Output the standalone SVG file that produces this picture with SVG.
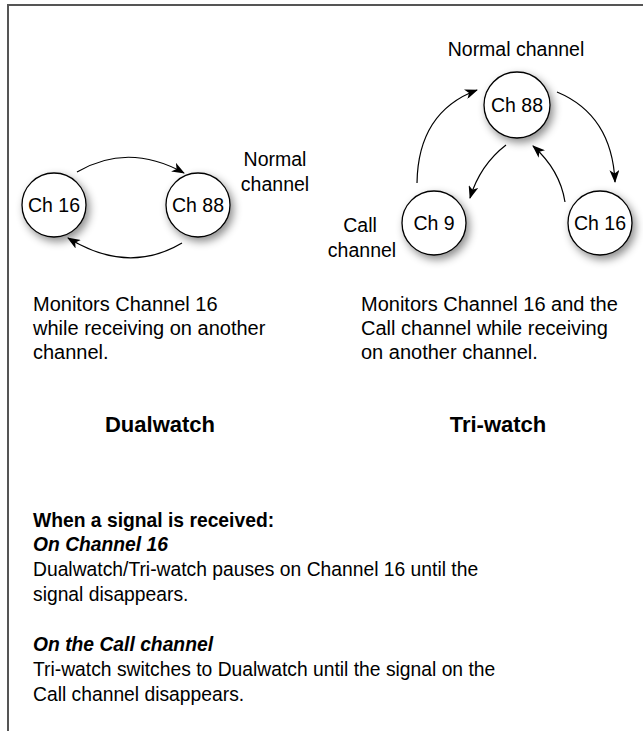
<svg xmlns="http://www.w3.org/2000/svg" width="643" height="731" viewBox="0 0 643 731">
<style>
  .frame { fill: none; stroke: #555; stroke-width: 2; }
  .node circle { fill: #fff; stroke: #000; stroke-width: 1.3; filter: url(#shadow); }
  .node text, .lbl { font-family: "Liberation Sans", Arial, sans-serif; font-size: 19.5px; fill: #000; }
  .node text { text-anchor: middle; }
  .body { font-family: "Liberation Sans", Arial, sans-serif; font-size: 19.3px; fill: #000; }
  .desc { font-size: 20px; }
  .title { font-size: 22px; font-weight: bold; text-anchor: middle; }
  .bold { font-weight: bold; }
  .ital { font-weight: bold; font-style: italic; }
  .mid { text-anchor: middle; }
  .conn path { fill: none; stroke: #000; stroke-width: 1.2; marker-end: url(#arrow); }
</style>
<defs>
  <filter id="shadow" x="-50%" y="-50%" width="200%" height="200%">
    <feDropShadow dx="3" dy="4" stdDeviation="4" flood-color="#000" flood-opacity="0.45"/>
  </filter>
  <marker id="arrow" viewBox="0 0 13 10" refX="12" refY="5" markerWidth="13" markerHeight="10" markerUnits="userSpaceOnUse" orient="auto">
    <path d="M0,0 L13,5 L0,10 L3.5,5 Z" fill="#000"/>
  </marker>
</defs>
<rect width="643" height="731" fill="#fff"/>
<path class="frame" d="M8,731 V5 H643"/>

<g id="connectors" class="conn">
  <path d="M77,172 Q128,142 184,173"/>
  <path d="M182,243 Q128,275 68,238"/>
  <path d="M417,183 Q418,112 477,90"/>
  <path d="M557,92 Q612,115 615,182"/>
  <path d="M506,145 Q480,165 470,198"/>
  <path d="M565,202 Q560,170 533,146"/>
</g>

<g id="dw-ch16" class="node"><circle cx="54" cy="205" r="32"/><text x="54" y="212">Ch 16</text></g>
<g id="dw-ch88" class="node"><circle cx="198" cy="205" r="32"/><text x="198" y="212">Ch 88</text></g>
<g id="tw-ch88" class="node"><circle cx="517" cy="105" r="33"/><text x="517" y="112">Ch 88</text></g>
<g id="tw-ch9" class="node"><circle cx="434" cy="223" r="32"/><text x="434" y="230">Ch 9</text></g>
<g id="tw-ch16" class="node"><circle cx="600" cy="223" r="32"/><text x="600" y="230">Ch 16</text></g>

<g id="labels">
  <text class="lbl mid" x="516" y="56">Normal channel</text>
  <text class="lbl mid" x="275" y="166">Normal</text>
  <text class="lbl mid" x="275" y="191">channel</text>
  <text class="lbl mid" x="360" y="232">Call</text>
  <text class="lbl mid" x="362" y="257">channel</text>
</g>

<g id="descriptions" class="body">
  <text class="desc" x="33" y="311">Monitors Channel 16</text>
  <text class="desc" x="33" y="335">while receiving on another</text>
  <text class="desc" x="33" y="359">channel.</text>
  <text class="desc" x="361" y="311">Monitors Channel 16 and the</text>
  <text class="desc" x="361" y="335">Call channel while receiving</text>
  <text class="desc" x="361" y="359">on another channel.</text>
  <text class="title" x="160" y="432">Dualwatch</text>
  <text class="title" x="498" y="432">Tri-watch</text>
</g>

<g id="notes" class="body">
  <text class="bold" x="33" y="527">When a signal is received:</text>
  <text class="ital" x="33" y="551">On Channel 16</text>
  <text x="33" y="576">Dualwatch/Tri-watch pauses on Channel 16 until the</text>
  <text x="33" y="601">signal disappears.</text>
  <text class="ital" x="33" y="651">On the Call channel</text>
  <text x="33" y="676">Tri-watch switches to Dualwatch until the signal on the</text>
  <text x="33" y="701">Call channel disappears.</text>
</g>
</svg>
